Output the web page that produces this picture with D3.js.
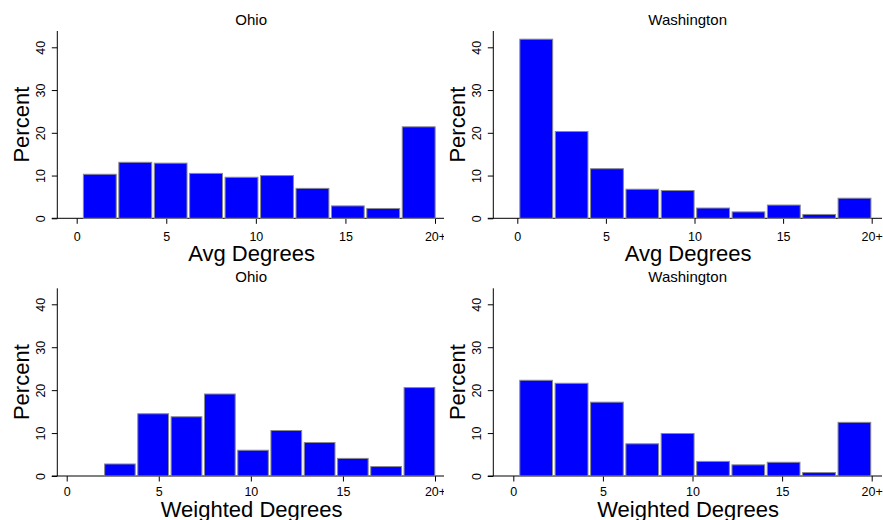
<!DOCTYPE html>
<html>
<head>
<meta charset="utf-8">
<script src="https://cdn.jsdelivr.net/npm/d3@7"></script>
<style>
  body { margin: 0; background: #fff; }
  svg { display: block; font-family: "Liberation Sans", Arial, sans-serif; }
</style>
</head>
<body>
<div id="chart"></div>
<script>
// percent of units in each bin
var ohioAvgPct = [10.3, 13.1, 12.9, 10.5, 9.6, 10.0, 7.0, 2.9, 2.3, 21.4];
var waAvgPct   = [41.9, 20.3, 11.6, 6.8, 6.5, 2.4, 1.5, 3.1, 0.9, 4.7];
var ohioWtPct  = [0, 2.8, 14.5, 13.8, 19.1, 6.0, 10.6, 7.8, 4.1, 2.2, 20.6];
var waWtPct    = [22.3, 21.6, 17.2, 7.5, 9.9, 3.4, 2.6, 3.2, 0.8, 12.5];

// bin edges (degrees)
var ohioAvgEdges = [0.3, 2.28, 4.26, 6.23, 8.21, 10.19, 12.17, 14.15, 16.12, 18.1, 20.08];
var waAvgEdges   = [0.07, 2.07, 4.06, 6.06, 8.05, 10.05, 12.05, 14.04, 16.04, 18.03, 20.03];
var ohioWtEdges  = [0.18, 1.99, 3.79, 5.6, 7.41, 9.22, 11.02, 12.83, 14.64, 16.44, 18.25, 20.06];
var waWtEdges    = [0.29, 2.26, 4.24, 6.21, 8.18, 10.16, 12.13, 14.1, 16.07, 18.05, 20.02];

var xTicks = [0, 5, 10, 15, 20];
var xTickLabels = ["0", "5", "10", "15", "20+"];
var yTicks = [0, 10, 20, 30, 40];

var width = 883, height = 520;

var svg = d3.select("#chart")
    .append("svg")
    .attr("width", width)
    .attr("height", height);

var defs = svg.append("defs");

function drawPanel(p, idx){

    var clipId = "clip" + idx;
    defs.append("clipPath")
        .attr("id", clipId)
        .append("rect")
        .attr("x", p.clipL).attr("y", 0)
        .attr("width", p.clipR - p.clipL).attr("height", height);

    var g = svg.append("g").attr("clip-path", "url(#" + clipId + ")");

    var x = d3.scaleLinear().domain([0, 20]).range([p.x0, p.x20]);
    var y = d3.scaleLinear().domain([0, 40]).range([p.yZero, p.y40]);

    // title
    g.append("text")
        .attr("x", (p.left + p.right) / 2)
        .attr("y", p.titleY)
        .attr("text-anchor", "middle")
        .attr("font-size", 15)
        .text(p.title);

    // y axis
    var yAxis = g.append("g")
        .attr("transform", "translate(" + p.left + ",0)")
        .call(d3.axisLeft(y).tickValues(yTicks).tickSize(5.5).tickPadding(2));
    yAxis.select(".domain").remove();
    yAxis.append("line")
        .attr("x1", 0).attr("x2", 0)
        .attr("y1", p.yZero).attr("y2", p.yTop)
        .attr("stroke", "#000");
    yAxis.selectAll(".tick text")
        .attr("x", 0).attr("dy", 0)
        .attr("transform", "translate(-12,0) rotate(-90)")
        .attr("text-anchor", "middle")
        .attr("font-size", 12.5)
        .attr("font-family", "Liberation Sans, Arial, sans-serif")
        .attr("fill", "#000");

    g.append("text")
        .attr("transform", "translate(" + (p.left - 28) + "," + ((p.yZero + p.yTop) / 2) + ") rotate(-90)")
        .attr("text-anchor", "middle")
        .attr("font-size", 22)
        .text("Percent");

    // x axis
    var xAxis = g.append("g")
        .attr("transform", "translate(0," + p.yZero + ")")
        .call(d3.axisBottom(x).tickValues(xTicks)
            .tickFormat(function(d, i){ return xTickLabels[i]; })
            .tickSize(5.5).tickPadding(2));
    xAxis.select(".domain").remove();
    xAxis.append("line")
        .attr("x1", p.left - 5.5).attr("x2", p.right)
        .attr("y1", 0).attr("y2", 0)
        .attr("stroke", "#000");
    xAxis.selectAll(".tick text")
        .attr("y", p.tickBase - p.yZero).attr("dy", 0)
        .attr("font-size", 12.5)
        .attr("font-family", "Liberation Sans, Arial, sans-serif")
        .attr("fill", "#000");

    g.append("text")
        .attr("x", (p.left + p.right) / 2 + 0.5)
        .attr("y", p.labelBase)
        .attr("text-anchor", "middle")
        .attr("font-size", 22)
        .text(p.xlab);

    // bars
    var gap = 1.3;
    g.selectAll(".bar")
        .data(p.values)
        .enter().append("rect")
        .attr("class", "bar")
        .attr("fill", "#0000ff")
        .attr("stroke", "#8a8a8a")
        .attr("stroke-width", 1)
        .attr("x", function(d, i) { return x(p.edges[i]) + gap; })
        .attr("width", function(d, i) { return x(p.edges[i + 1]) - x(p.edges[i]) - 2 * gap; })
        .attr("y", function(d) { return y(d); })
        .attr("height", function(d) { return p.yZero - y(d); });
}

var panels = [
    { title: "Ohio", xlab: "Avg Degrees", values: ohioAvgPct, edges: ohioAvgEdges,
      left: 57.3, right: 445, clipL: 0, clipR: 444, x0: 76.7, x20: 435,
      yTop: 31, yZero: 218.3, y40: 47.3, titleY: 25, tickBase: 241.5, labelBase: 260.5 },
    { title: "Washington", xlab: "Avg Degrees", values: waAvgPct, edges: waAvgEdges,
      left: 493.3, right: 882, clipL: 444, clipR: 883, x0: 517.3, x20: 871.7,
      yTop: 31, yZero: 218.3, y40: 47.3, titleY: 25, tickBase: 241.5, labelBase: 260.5 },
    { title: "Ohio", xlab: "Weighted Degrees", values: ohioWtPct, edges: ohioWtEdges,
      left: 57.3, right: 445, clipL: 0, clipR: 444, x0: 66.7, x20: 435,
      yTop: 288.3, yZero: 476, y40: 304.3, titleY: 282, tickBase: 496, labelBase: 516.5 },
    { title: "Washington", xlab: "Weighted Degrees", values: waWtPct, edges: waWtEdges,
      left: 493.3, right: 882, clipL: 444, clipR: 883, x0: 513.3, x20: 871.7,
      yTop: 288.3, yZero: 476, y40: 304.3, titleY: 282, tickBase: 496, labelBase: 516.5 }
];

panels.forEach(function(p, i){ drawPanel(p, i); });
</script>
</body>
</html>
